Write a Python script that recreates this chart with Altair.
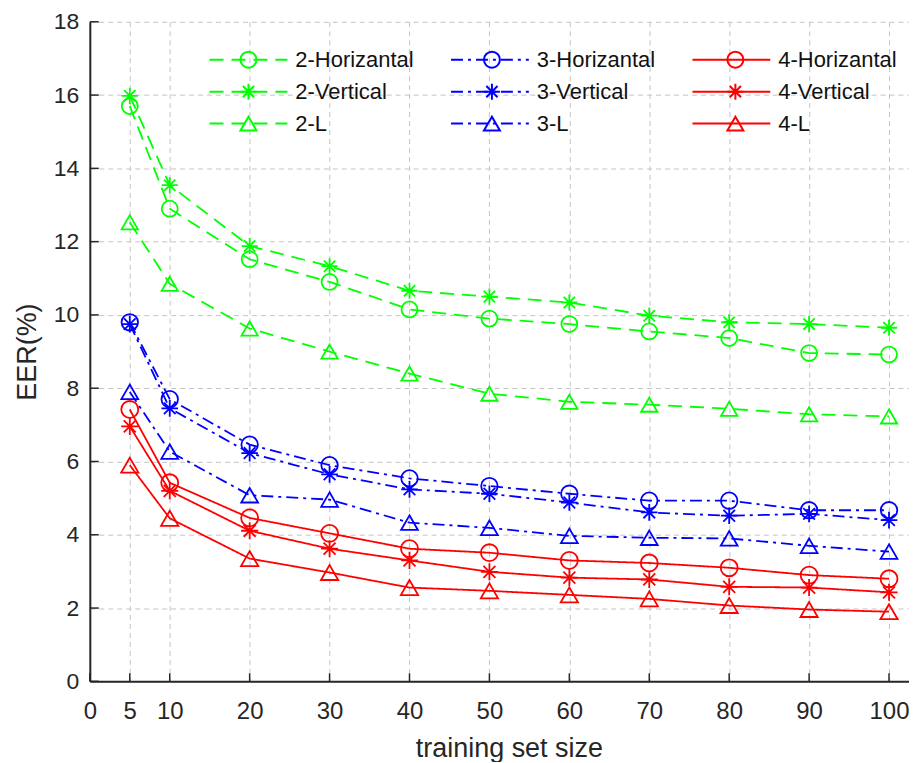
import altair as alt
import pandas as pd

# ---------------- data ----------------
x_sizes = [5, 10, 20, 30, 40, 50, 60, 70, 80, 90, 100]
x_ticks = [0, 5, 10, 20, 30, 40, 50, 60, 70, 80, 90, 100]
y_ticks = [0, 2, 4, 6, 8, 10, 12, 14, 16, 18]

series_order = ["2-Horizantal", "2-Vertical", "2-L",
                "3-Horizantal", "3-Vertical", "3-L",
                "4-Horizantal", "4-Vertical", "4-L"]

eer_2_h = [15.70, 12.90, 11.52, 10.90, 10.15, 9.90, 9.75, 9.55, 9.37, 8.96, 8.92]
eer_2_v = [15.98, 13.54, 11.88, 11.33, 10.66, 10.50, 10.34, 9.98, 9.80, 9.75, 9.65]
eer_2_l = [12.53, 10.85, 9.63, 9.00, 8.40, 7.85, 7.63, 7.55, 7.44, 7.29, 7.23]
eer_3_h = [9.80, 7.70, 6.46, 5.90, 5.54, 5.33, 5.12, 4.93, 4.93, 4.67, 4.67]
eer_3_v = [9.75, 7.45, 6.23, 5.65, 5.24, 5.12, 4.88, 4.61, 4.52, 4.57, 4.40]
eer_3_l = [7.90, 6.27, 5.08, 4.96, 4.33, 4.19, 3.97, 3.92, 3.90, 3.70, 3.54]
eer_4_h = [7.42, 5.42, 4.46, 4.04, 3.62, 3.51, 3.30, 3.23, 3.10, 2.90, 2.80]
eer_4_v = [6.96, 5.20, 4.11, 3.62, 3.30, 2.99, 2.83, 2.78, 2.58, 2.56, 2.43]
eer_4_l = [5.90, 4.45, 3.35, 2.97, 2.56, 2.47, 2.36, 2.25, 2.07, 1.96, 1.90]

series_values = {
    "2-Horizantal": eer_2_h, "2-Vertical": eer_2_v, "2-L": eer_2_l,
    "3-Horizantal": eer_3_h, "3-Vertical": eer_3_v, "3-L": eer_3_l,
    "4-Horizantal": eer_4_h, "4-Vertical": eer_4_v, "4-L": eer_4_l,
}

rows = []
for s in series_order:
    for xv, yv in zip(x_sizes, series_values[s]):
        rows.append({"x": xv, "y": yv, "series": s})
df = pd.DataFrame(rows)
df_xt = pd.DataFrame({"x": x_ticks})
df_yt = pd.DataFrame({"y": y_ticks})

# ---------------- styles ----------------
GREEN, BLUE, RED = "#00ff00", "#0000ff", "#ff0000"
colors = [GREEN] * 3 + [BLUE] * 3 + [RED] * 3
dashes = [[14, 8]] * 3 + [[12, 5, 3, 5]] * 3 + [[1, 0]] * 3
ASTER = "M0,-1L0,1M-1,0L1,0M-0.7,-0.7L0.7,0.7M-0.7,0.7L0.7,-0.7"
shapes = ["circle", ASTER, "triangle-up"] * 3
msizes = [256, 300, 380] * 3

FONT = "Liberation Sans"
INK = "#262626"
PAD_T, PAD_L, PAD_B = 13, 82, 80
W, H = 821, 661

color_scale = alt.Scale(domain=series_order, range=colors)
dash_scale = alt.Scale(domain=series_order, range=dashes)
shape_scale = alt.Scale(domain=series_order, range=shapes)
size_scale = alt.Scale(domain=series_order, range=msizes)

LX, LY = 119, 27
common_leg = dict(orient="none", columns=3, title=None, padding=0,
                  labelFont=FONT, labelFontSize=22, labelColor="#111111",
                  clipHeight=22, rowPadding=10, gridAlign="all",
                  symbolStrokeWidth=2, labelLimit=300)
leg_lines = alt.Legend(legendX=LX, legendY=LY, symbolType="stroke",
                       symbolSize=6084, labelOffset=7, columnPadding=36,
                       **common_leg)
leg_marks = alt.Legend(legendX=LX + 29, legendY=LY, symbolSize=256,
                       labelOffset=0, labelExpr="''", columnPadding=222,
                       **common_leg)

x_scale = alt.Scale(domain=[0, 102.5], nice=False, zero=False)
y_scale = alt.Scale(domain=[0, 18], nice=False)

grid_kw = dict(grid=True, gridColor="#c4c4c4", gridDash=[5, 4], gridWidth=1,
               domainColor=INK, domainWidth=2, ticks=False,
               labelFont=FONT, labelColor=INK, labelFlush=False,
               labelOverlap=False, labelBound=False,
               titleFont=FONT, titleColor=INK, titleFontWeight="normal",
               titleFontSize=27)

x_axis = alt.Axis(values=x_ticks, labelFontSize=24, labelPadding=18,
                  title="training set size", titleX=420, titleY=75,
                  titleBaseline="alphabetic", **grid_kw)
y_axis = alt.Axis(values=y_ticks, labelFontSize=23, labelPadding=11,
                  title="EER(%)", titlePadding=12, **grid_kw)

X = alt.X("x:Q", scale=x_scale, axis=x_axis)
Y = alt.Y("y:Q", scale=y_scale, axis=y_axis)

lines = alt.Chart(df).mark_line(strokeWidth=1.8).encode(
    x=X, y=Y,
    color=alt.Color("series:N", scale=color_scale, legend=leg_lines),
    strokeDash=alt.StrokeDash("series:N", scale=dash_scale, legend=leg_lines),
    detail="series:N",
)

points = alt.Chart(df).mark_point(filled=False, strokeWidth=1.8, opacity=1).encode(
    x=X, y=Y,
    color=alt.Color("series:N", scale=color_scale, legend=leg_marks),
    shape=alt.Shape("series:N", scale=shape_scale, legend=leg_marks),
    size=alt.Size("series:N", scale=size_scale, legend=None),
)

xticks = alt.Chart(df_xt).mark_rule(color=INK, strokeWidth=1.5).encode(
    x=X,
    y=alt.value(H),
    y2=alt.value(H - 8),
)
yticks = alt.Chart(df_yt).mark_rule(color=INK, strokeWidth=1.5).encode(
    y=Y,
    x=alt.value(0),
    x2=alt.value(9),
)

chart = alt.layer(lines, points, xticks, yticks).resolve_scale(
    color="independent", shape="independent", strokeDash="independent"
).resolve_legend(
    color="independent", shape="independent", strokeDash="independent"
).properties(
    width=W, height=H,
    autosize=alt.AutoSizeParams(type="none"),
    padding={"left": PAD_L, "top": PAD_T, "right": 0, "bottom": PAD_B},
    background="white",
).configure_view(stroke=None)

chart.save("out.html", embed_options={"renderer": "svg", "actions": False})
